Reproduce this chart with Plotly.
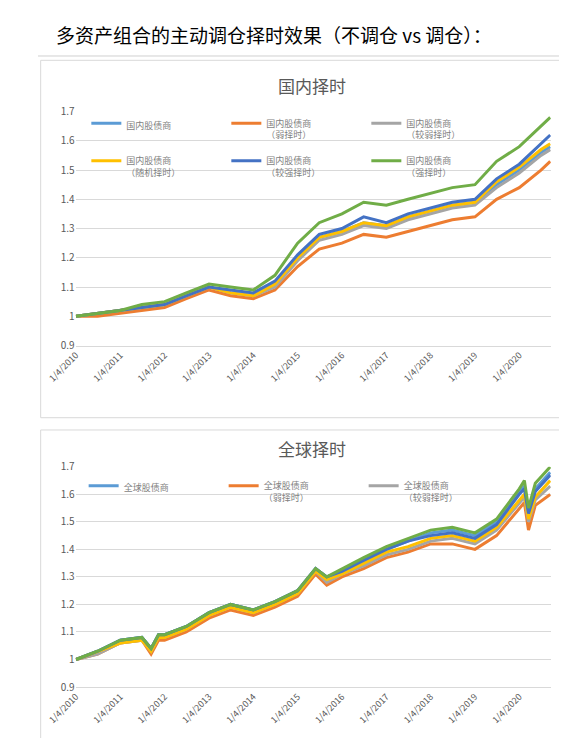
import plotly.graph_objects as go

# top chart: domestic timing, semiannual points
top_dates = ["2010-01-04", "2010-07-01", "2011-01-04", "2011-07-01", "2012-01-04", "2012-07-01",
             "2013-01-04", "2013-07-01", "2014-01-04", "2014-07-01", "2015-01-04", "2015-07-01",
             "2016-01-04", "2016-07-01", "2017-01-04", "2017-07-01", "2018-01-04", "2018-07-01",
             "2019-01-04", "2019-07-01", "2020-01-04", "2020-07-01", "2020-09-15"]
top_base = [1.00, 1.01, 1.02, 1.03, 1.04, 1.07, 1.10, 1.08, 1.07, 1.11, 1.20, 1.27, 1.29, 1.32,
            1.31, 1.34, 1.36, 1.38, 1.39, 1.45, 1.50, 1.56, 1.58]
top_weak = [1.00, 1.00, 1.01, 1.02, 1.03, 1.06, 1.09, 1.07, 1.06, 1.09, 1.17, 1.23, 1.25, 1.28,
            1.27, 1.29, 1.31, 1.33, 1.34, 1.40, 1.44, 1.50, 1.53]
top_semiweak = [1.00, 1.01, 1.02, 1.03, 1.04, 1.07, 1.10, 1.08, 1.07, 1.10, 1.19, 1.26, 1.28, 1.31,
                1.30, 1.33, 1.35, 1.37, 1.38, 1.44, 1.49, 1.55, 1.57]
top_random = [1.00, 1.01, 1.02, 1.03, 1.04, 1.07, 1.10, 1.08, 1.07, 1.11, 1.20, 1.27, 1.29, 1.32,
              1.31, 1.34, 1.36, 1.38, 1.39, 1.46, 1.51, 1.57, 1.59]
top_semistrong = [1.00, 1.01, 1.02, 1.03, 1.04, 1.07, 1.10, 1.09, 1.08, 1.12, 1.21, 1.28, 1.30, 1.34,
                  1.32, 1.35, 1.37, 1.39, 1.40, 1.47, 1.52, 1.59, 1.62]
top_strong = [1.00, 1.01, 1.02, 1.04, 1.05, 1.08, 1.11, 1.10, 1.09, 1.14, 1.25, 1.32, 1.35, 1.39,
              1.38, 1.40, 1.42, 1.44, 1.45, 1.53, 1.58, 1.65, 1.68]

# bottom chart: global timing
bot_dates = ["2010-01-04", "2010-07-01", "2011-01-04", "2011-07-01", "2011-09-15", "2011-11-15",
             "2012-01-04", "2012-07-01", "2013-01-04", "2013-07-01", "2014-01-04", "2014-07-01",
             "2015-01-04", "2015-06-01", "2015-09-01", "2016-01-04", "2016-07-01", "2017-01-04",
             "2017-07-01", "2018-01-04", "2018-07-01", "2019-01-04", "2019-07-01", "2020-01-04",
             "2020-02-15", "2020-03-20", "2020-05-15", "2020-09-15"]
bot_base = [1.00, 1.03, 1.07, 1.08, 1.04, 1.09, 1.09, 1.12, 1.17, 1.20, 1.18, 1.21, 1.25, 1.33,
            1.30, 1.32, 1.36, 1.40, 1.43, 1.46, 1.47, 1.45, 1.50, 1.61, 1.63, 1.54, 1.62, 1.68]
bot_weak = [1.00, 1.02, 1.06, 1.07, 1.02, 1.07, 1.07, 1.10, 1.15, 1.18, 1.16, 1.19, 1.23, 1.31,
            1.27, 1.30, 1.33, 1.37, 1.39, 1.42, 1.42, 1.40, 1.45, 1.55, 1.57, 1.47, 1.56, 1.60]
bot_semiweak = [1.00, 1.02, 1.06, 1.07, 1.03, 1.08, 1.08, 1.11, 1.16, 1.19, 1.17, 1.20, 1.24, 1.32,
                1.28, 1.31, 1.34, 1.38, 1.40, 1.43, 1.44, 1.42, 1.47, 1.57, 1.59, 1.50, 1.58, 1.63]
bot_random = [1.00, 1.03, 1.06, 1.07, 1.03, 1.08, 1.08, 1.11, 1.16, 1.19, 1.17, 1.20, 1.24, 1.32,
              1.29, 1.31, 1.35, 1.39, 1.41, 1.44, 1.45, 1.43, 1.48, 1.58, 1.60, 1.51, 1.59, 1.65]
bot_semistrong = [1.00, 1.03, 1.07, 1.08, 1.04, 1.09, 1.09, 1.12, 1.17, 1.20, 1.18, 1.21, 1.25, 1.33,
                  1.30, 1.32, 1.36, 1.40, 1.43, 1.45, 1.46, 1.44, 1.49, 1.60, 1.62, 1.53, 1.61, 1.67]
bot_strong = [1.00, 1.03, 1.07, 1.08, 1.04, 1.09, 1.09, 1.12, 1.17, 1.20, 1.18, 1.21, 1.25, 1.33,
              1.30, 1.33, 1.37, 1.41, 1.44, 1.47, 1.48, 1.46, 1.51, 1.62, 1.65, 1.55, 1.64, 1.70]

top_names = ["国内股债商", "国内股债商<br>（弱择时）", "国内股债商<br>（较弱择时）",
             "国内股债商<br>（随机择时）", "国内股债商<br>（较强择时）", "国内股债商<br>（强择时）"]
bot_names = ["全球股债商", "全球股债商<br>（弱择时）", "全球股债商<br>（较弱择时）",
             "全球股债商<br>（随机择时）", "全球股债商<br>（较强择时）", "全球股债商<br>（强择时）"]
colors = ["#5B9BD5", "#ED7D31", "#A5A5A5", "#FFC000", "#4472C4", "#70AD47"]

tick_vals = [f"{y}-01-04" for y in range(2010, 2021)]
tick_text = [f"1/4/{y}" for y in range(2010, 2021)]

FONT = "Noto Sans CJK SC"
fig = go.Figure()

top_series = [top_base, top_weak, top_semiweak, top_random, top_semistrong, top_strong]
for i, (name, vals) in enumerate(zip(top_names, top_series)):
    fig.add_trace(go.Scatter(
        x=top_dates, y=vals, name=name, mode="lines",
        line=dict(color=colors[i], width=3),
        legend="legend" if i < 3 else "legend2",
        xaxis="x", yaxis="y",
    ))

bot_series = [bot_base, bot_weak, bot_semiweak, bot_random, bot_semistrong, bot_strong]
for i, (name, vals) in enumerate(zip(bot_names, bot_series)):
    fig.add_trace(go.Scatter(
        x=bot_dates, y=vals, name=name, mode="lines",
        line=dict(color=colors[i], width=3),
        legend="legend3", showlegend=i < 3,
        xaxis="x2", yaxis="y2",
    ))

xcommon = dict(
    type="date", range=["2010-01-01", "2020-09-20"], tickvals=tick_vals, ticktext=tick_text,
    tickangle=-45, showgrid=False, showline=True, linecolor="#d9d9d9",
    tickfont=dict(size=9, color="#595959"), domain=[0.07, 0.955],
)
ycommon = dict(
    range=[0.9, 1.7], tickvals=[0.9, 1, 1.1, 1.2, 1.3, 1.4, 1.5, 1.6, 1.7],
    ticktext=["0.9", "1", "1.1", "1.2", "1.3", "1.4", "1.5", "1.6", "1.7"],
    gridcolor="#d9d9d9", zeroline=False, tickfont=dict(size=10, color="#595959"),
)
legcommon = dict(orientation="h", entrywidth=95, font=dict(size=9, color="#7f7f7f"),
                 bgcolor="rgba(0,0,0,0)", xanchor="left", yanchor="top", valign="top")

fig.update_layout(
    width=567, height=738, margin=dict(l=0, r=0, t=0, b=0),
    paper_bgcolor="white", plot_bgcolor="white",
    font=dict(family=FONT),
    xaxis=dict(**xcommon, anchor="y"),
    yaxis=dict(**ycommon, domain=[0.545, 0.869], anchor="x"),
    xaxis2=dict(**xcommon, anchor="y2"),
    yaxis2=dict(**ycommon, domain=[0.072, 0.377], anchor="x2"),
    legend=dict(**legcommon, x=0.09, y=0.87),
    legend2=dict(**legcommon, x=0.09, y=0.818),
    legend3=dict(**legcommon, x=0.085, y=0.368),
    shapes=[
        dict(type="line", xref="paper", yref="paper", x0=0, x1=1, y0=0.946, y1=0.946,
             line=dict(color="#d0d0d0", width=1)),
        dict(type="rect", xref="paper", yref="paper", x0=0.005, x1=0.985, y0=0.445, y1=0.94,
             line=dict(color="#d9d9d9", width=1)),
        dict(type="rect", xref="paper", yref="paper", x0=0.005, x1=0.985, y0=0.0, y1=0.428,
             line=dict(color="#d9d9d9", width=1)),
    ],
    annotations=[
        dict(text="多资产组合的主动调仓择时效果（不调仓 vs 调仓）：", xref="paper", yref="paper",
             x=0.03, y=0.976, xanchor="left", yanchor="middle", showarrow=False,
             font=dict(size=19, color="black")),
        dict(text="国内择时", xref="paper", yref="paper", x=0.51, y=0.905,
             xanchor="center", yanchor="middle", showarrow=False,
             font=dict(size=17, color="#595959")),
        dict(text="全球择时", xref="paper", yref="paper", x=0.51, y=0.402,
             xanchor="center", yanchor="middle", showarrow=False,
             font=dict(size=17, color="#595959")),
    ],
)

fig.write_html("out.html")
